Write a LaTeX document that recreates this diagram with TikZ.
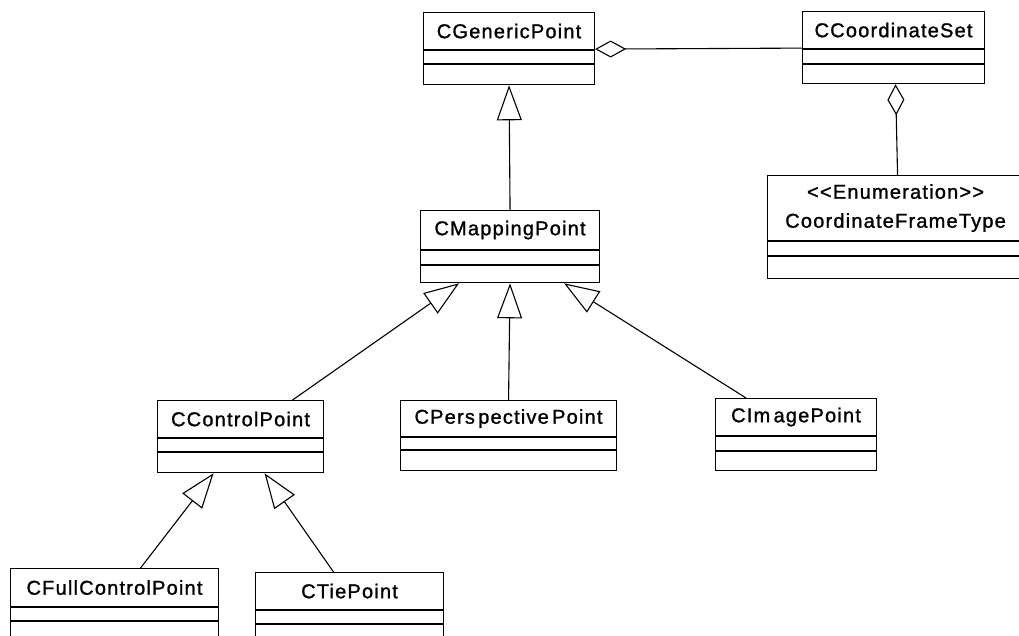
\documentclass[tikz,border=0pt]{standalone}
\usepackage{fontspec}
\setmainfont{Liberation Sans}[LetterSpace=6, FakeBold=1.2, Ligatures=NoCommon]
\usetikzlibrary{arrows.meta}

\tikzset{
  classhead/.style={draw, line width=1.1pt, rectangle, anchor=north west, inner sep=0pt,
    font=\fontsize{20}{29}\selectfont, align=center},
  classcomp/.style={draw, line width=1.1pt, rectangle, anchor=north, inner sep=0pt},
  inherit/.style={line width=1.1pt, -{Triangle[open, length=35pt, width=25pt, line width=1.1pt]}},
  aggregate/.style={line width=1.1pt, -{Diamond[open, length=31pt, width=17pt, line width=1.1pt]}},
}

% header + two empty compartments of a class box
\newcommand{\umlbox}[7]{%
  % #1 name, #2 x, #3 y, #4 width, #5 header height, #6 compartment heights a/b, #7 text
  \node[classhead, minimum width=#4pt, minimum height=#5pt] (#1) at (#2,#3) {#7};
  \umlcomps{#1}{#4}#6%
}
\newcommand{\umlcomps}[4]{%
  \node[classcomp, minimum width=#2pt, minimum height=#3pt] (#1a) at (#1.south) {};
  \node[classcomp, minimum width=#2pt, minimum height=#4pt] (#1b) at (#1a.south) {};
}

\begin{document}
\begin{tikzpicture}[x=1pt, y=-1pt]
  \clip (0,0) rectangle (1019,636);
  \fill[white] (0,0) rectangle (1019,636);

  % classes
  \umlbox{gp}{423}{12}{171}{37}{{13}{20}}{CGenericPoint}
  \umlbox{cs}{802}{11}{182}{37}{{14}{19}}{CCoordinateSet}
  \umlbox{en}{767}{175}{256}{65}{{14}{22}}{{<}{<}Enumeration{>}{>}\\CoordinateFrameType}
  \umlbox{mp}{420}{210}{179}{39}{{14}{17}}{CMappingPoint}
  \umlbox{cp}{157}{400}{166}{37}{{13}{20}}{CControlPoint}
  \umlbox{pp}{400}{400}{216}{36}{{12}{20}}{CPers\,pective\,Point}
  \umlbox{ip}{715}{398}{161}{37}{{14}{19}}{CIm\,agePoint}
  \umlbox{fc}{10}{568}{208}{38}{{13}{22}}{CFullControlPoint}
  \umlbox{tp}{255}{572}{188}{37}{{13}{12}}{CTiePoint}

  % aggregations
  \draw[aggregate] ([yshift=1pt]cs.south west) -- ([yshift=1pt]gp.south east);
  \draw[aggregate] ([xshift=2pt]en.north) -- ([xshift=2pt]csb.south);

  % generalizations
  \draw[inherit] (mp.north) -- (gpb.south);
  \draw[inherit] (pp.north) -- (mpb.south);
  \draw[inherit] ([xshift=52pt]cp.north) -- ([xshift=-51pt]mpb.south);
  \draw[inherit] ([xshift=-50pt]ip.north) -- ([xshift=54pt]mpb.south);
  \draw[inherit] ([xshift=26pt]fc.north) -- ([xshift=-27pt]cpb.south);
  \draw[inherit] ([xshift=-16pt]tp.north) -- ([xshift=24pt]cpb.south);
\end{tikzpicture}
\end{document}
